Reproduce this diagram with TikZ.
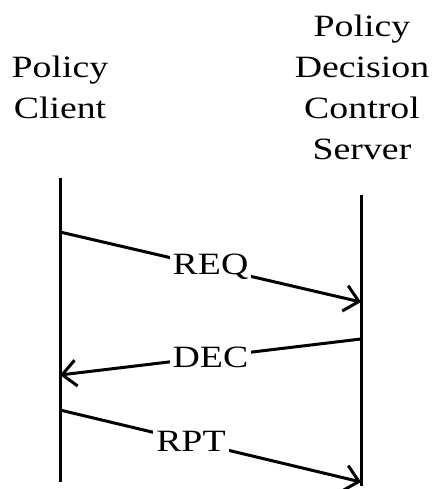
\documentclass[tikz,border=0pt]{standalone}
\usepackage{fontspec}
\setmainfont{Liberation Serif}
% wide Times-like face used for every label
\newfontfamily\widefont[FakeStretch=1.22]{Liberation Serif}
\usetikzlibrary{arrows.meta}
\begin{document}
\begin{tikzpicture}[x=1pt,y=-1pt,
  lifeline/.style={line width=3pt},
  msg/.style={line width=3pt,-{Straight Barb[length=14pt,width=26pt]}},
  msglabel/.style={fill=white,inner xsep=3pt,inner ysep=1pt,font=\widefont\fontsize{31}{41}\selectfont},
  title/.style={align=center,inner sep=0pt,anchor=north,font=\widefont\fontsize{31}{41}\selectfont}]
\useasboundingbox (0,0) rectangle (434,489);

% participant headings
\node[title] (client) at (60,55.8) {Policy\\Client};
\node[title] (server) at (362,14.8) {Policy\\Decision\\Control\\Server};

% lifelines
\coordinate (ctop) at (60,178);
\coordinate (cbot) at (60,482);
\coordinate (stop) at (361,195);
\coordinate (sbot) at (361,486);
\draw[lifeline] (ctop) -- (cbot);
\draw[lifeline] (stop) -- (sbot);

% message end points on the lifelines
\coordinate (req0) at (60,232);
\coordinate (req1) at (361,302);
\coordinate (dec0) at (361,339);
\coordinate (dec1) at (60,375);
\coordinate (rpt0) at (60,410);
\coordinate (rpt1) at (361,482);

% messages
\draw[msg] (req0) -- node[msglabel,pos=0.5] (reqlabel) {REQ} (req1);
\draw[msg] (dec0) -- node[msglabel,pos=0.5] (declabel) {DEC} (dec1);
\draw[msg] (rpt0) -- node[msglabel,pos=0.435] (rptlabel) {RPT} (rpt1);
\end{tikzpicture}
\end{document}
